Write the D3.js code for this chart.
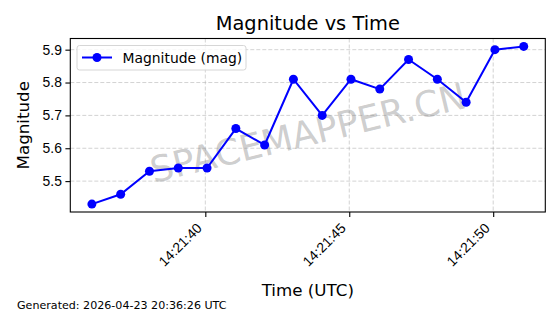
<!DOCTYPE html>
<html lang="en">
<head>
<meta charset="UTF-8">
<title>Magnitude vs Time</title>
<style>
  body { margin: 0; background: #fff; }
  svg { display: block; font-family: "DejaVu Sans", sans-serif; }
</style>
</head>
<body>
<svg id="chart" width="560" height="314"></svg>
<script src="https://cdnjs.cloudflare.com/ajax/libs/d3/7.8.5/d3.min.js"></script>
<script>
// data
const times = ["14:21:36.060", "14:21:37.060", "14:21:38.060", "14:21:39.060",
               "14:21:40.060", "14:21:41.060", "14:21:42.060", "14:21:43.060",
               "14:21:44.060", "14:21:45.060", "14:21:46.060", "14:21:47.060",
               "14:21:48.060", "14:21:49.060", "14:21:50.060", "14:21:51.060"];
const magnitudes = [5.43, 5.46, 5.53, 5.54, 5.54, 5.66, 5.61, 5.81,
                    5.70, 5.81, 5.78, 5.87, 5.81, 5.74, 5.90, 5.91];
const xTicks = ["14:21:40.000", "14:21:45.000", "14:21:50.000"];
const yTicks = [5.5, 5.6, 5.7, 5.8, 5.9];

const parse = d3.utcParse("%H:%M:%S.%L");
const data = times.map((t, i) => ({ t: parse(t), v: magnitudes[i] }));

const svg = d3.select("#chart");
const box = { left: 70.3, right: 545.3, top: 38.5, bottom: 212 };

// matplotlib-like 5% margins
function padded(ext) {
  const span = ext[1] - ext[0];
  return [ext[0] - span * 0.05, ext[1] + span * 0.05];
}
const tExt = d3.extent(data, d => +d.t);
const x = d3.scaleUtc().domain(padded(tExt).map(v => new Date(v))).range([box.left, box.right]);
const y = d3.scaleLinear().domain(padded(d3.extent(magnitudes))).range([box.bottom, box.top]);

// grid
const grid = svg.append("g").attr("stroke", "#b0b0b0").attr("stroke-opacity", 0.7)
  .attr("stroke-width", 0.8).attr("stroke-dasharray", "4,2");
xTicks.forEach(s => {
  const px = x(parse(s));
  grid.append("line").attr("x1", px).attr("x2", px).attr("y1", box.top).attr("y2", box.bottom);
});
yTicks.forEach(v => {
  grid.append("line").attr("x1", box.left).attr("x2", box.right).attr("y1", y(v)).attr("y2", y(v));
});

// watermark
svg.append("text")
  .attr("transform", "translate(308,133) rotate(-13.5)")
  .attr("text-anchor", "middle").attr("dominant-baseline", "central")
  .attr("font-size", 36).attr("fill", "#808080").attr("fill-opacity", 0.4)
  .text("SPACEMAPPER.CN");

// axes
const fmt = d3.utcFormat("%H:%M:%S");
const xAxis = svg.append("g").attr("transform", `translate(0,${box.bottom})`)
  .call(d3.axisBottom(x).tickValues(xTicks.map(parse)).tickFormat(fmt).tickSize(4.9).tickSizeOuter(0));
xAxis.select(".domain").remove();
xAxis.selectAll("line").attr("stroke", "#000").attr("stroke-width", 1.1);
xAxis.selectAll("text")
  .attr("font-size", 13.9).attr("fill", "#000")
  .attr("text-anchor", "end").attr("y", 0).attr("dy", 0)
  .attr("transform", "translate(-3,17) rotate(-45)");

const yAxis = svg.append("g").attr("transform", `translate(${box.left},0)`)
  .call(d3.axisLeft(y).tickValues(yTicks).tickFormat(d3.format(".1f")).tickSize(4.9).tickSizeOuter(0));
yAxis.select(".domain").remove();
yAxis.selectAll("line").attr("stroke", "#000").attr("stroke-width", 1.1);
yAxis.selectAll("text").attr("font-size", 13.9).attr("fill", "#000").attr("x", -8.4);

// line and markers
const line = d3.line().x(d => x(d.t)).y(d => y(d.v));
svg.append("path").datum(data).attr("d", line)
  .attr("fill", "none").attr("stroke", "#0000ff").attr("stroke-width", 2);
svg.append("g").selectAll("circle").data(data).join("circle")
  .attr("cx", d => x(d.t)).attr("cy", d => y(d.v)).attr("r", 4.5).attr("fill", "#0000ff");

// frame
svg.append("rect").attr("x", box.left).attr("y", box.top)
  .attr("width", box.right - box.left).attr("height", box.bottom - box.top)
  .attr("fill", "none").attr("stroke", "#000").attr("stroke-width", 1.1);

// legend
const lg = svg.append("g");
lg.append("rect").attr("x", 77).attr("y", 45.5).attr("width", 169).attr("height", 24.5).attr("rx", 2.5)
  .attr("fill", "#fff").attr("fill-opacity", 0.8).attr("stroke", "#d6d6d6").attr("stroke-width", 1);
lg.append("line").attr("x1", 82).attr("x2", 112).attr("y1", 57.5).attr("y2", 57.5)
  .attr("stroke", "#0000ff").attr("stroke-width", 2);
lg.append("circle").attr("cx", 97).attr("cy", 57.5).attr("r", 4.5).attr("fill", "#0000ff");
lg.append("text").attr("x", 122.5).attr("y", 62.5).attr("font-size", 13.9).attr("fill", "#000")
  .text("Magnitude (mag)");

// titles
svg.append("text").attr("x", (box.left + box.right) / 2).attr("y", 30)
  .attr("text-anchor", "middle").attr("font-size", 19.4).attr("fill", "#000").text("Magnitude vs Time");
svg.append("text").attr("x", (box.left + box.right) / 2).attr("y", 295.5)
  .attr("text-anchor", "middle").attr("font-size", 16.7).attr("fill", "#000").text("Time (UTC)");
svg.append("text").attr("transform", `translate(29,${(box.top + box.bottom) / 2}) rotate(-90)`)
  .attr("text-anchor", "middle").attr("font-size", 16.7).attr("fill", "#000").text("Magnitude");
svg.append("text").attr("x", 17).attr("y", 308.5).attr("font-size", 11.1).attr("fill", "#000")
  .text("Generated: 2026-04-23 20:36:26 UTC");
</script>
</body>
</html>
